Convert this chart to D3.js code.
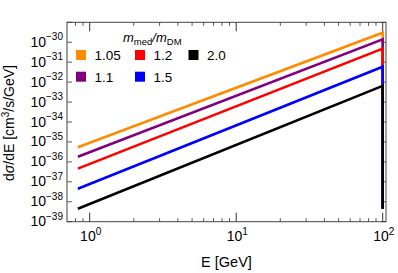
<!DOCTYPE html>
<html>
<head>
<meta charset="utf-8">
<script src="https://cdn.jsdelivr.net/npm/d3@7"></script>
<style>
  body { margin: 0; background: #fff; }
  svg { font-family: "Liberation Sans", Arial, sans-serif; }
</style>
</head>
<body>
<div id="chart"></div>
<script>
// ratios m_med / m_DM, one line each
const ratios = ['1.05', '1.1', '1.2', '1.5', '2.0'];
const colors = ['#ff8c00', '#800080', '#ff0000', '#0000ff', '#000000'];

// energies [GeV]; the last point is the cutoff drop at E = 100
const energies = [0.83, 100, 100];
const sig105 = [5.4e-36, 3.0e-30, 4.5e-39];
const sig11 = [1.8e-36, 1.4e-30, 4.5e-39];
const sig12 = [4.6e-37, 4.8e-31, 4.5e-39];
const sig15 = [4.5e-38, 5.9e-32, 4.5e-39];
const sig20 = [4.5e-39, 6.5e-33, 4.5e-39];
const series = [sig105, sig11, sig12, sig15, sig20];

const xTickValues = [1, 10, 100];
const xTickLabels = ['0', '1', '2'];
const yTickValues = [1e-30, 1e-31, 1e-32, 1e-33, 1e-34, 1e-35, 1e-36, 1e-37, 1e-38, 1e-39];
const yTickLabels = ['-30', '-31', '-32', '-33', '-34', '-35', '-36', '-37', '-38', '-39'];

const width = 398, height = 273;
const margin = { top: 22.3, right: 12, bottom: 51.3, left: 67 };

const svg = d3.select('#chart').append('svg')
  .attr('width', width)
  .attr('height', height);

const x = d3.scaleLog()
  .domain([0.70, 105.3])
  .range([margin.left, width - margin.right]);

const y = d3.scaleLog()
  .domain([1e-39, 1e-29])
  .range([height - margin.bottom, margin.top]);

const x0 = margin.left, x1 = width - margin.right;
const y0 = height - margin.bottom, y1 = margin.top;

// minor / major ticks
const isMajor = v => Math.abs(Math.log10(v) - Math.round(Math.log10(v))) < 1e-6;
const xt = x.ticks().filter(v => v > x.domain()[0] && v < x.domain()[1]);
const yt = y.ticks();

const ticks = svg.append('g').attr('class', 'ticks');
xt.forEach(v => {
  const len = isMajor(v) ? 9 : 3.5;
  const col = isMajor(v) ? '#333' : '#555';
  ticks.append('line').attr('x1', x(v)).attr('x2', x(v))
    .attr('y1', y0).attr('y2', y0 - len).attr('stroke', col).attr('stroke-width', 1);
  ticks.append('line').attr('x1', x(v)).attr('x2', x(v))
    .attr('y1', y1).attr('y2', y1 + len).attr('stroke', col).attr('stroke-width', 1);
});
yt.forEach(v => {
  const len = isMajor(v) ? 5 : 3;
  const col = isMajor(v) ? '#333' : '#999';
  ticks.append('line').attr('x1', x0).attr('x2', x0 + len)
    .attr('y1', y(v)).attr('y2', y(v)).attr('stroke', col).attr('stroke-width', 0.8);
  ticks.append('line').attr('x1', x1).attr('x2', x1 - len)
    .attr('y1', y(v)).attr('y2', y(v)).attr('stroke', col).attr('stroke-width', 0.8);
});

// data lines
svg.append('clipPath').attr('id', 'clip')
  .append('rect').attr('x', x0).attr('y', y1).attr('width', x1 - x0).attr('height', y0 - y1);

const line = d3.line()
  .x((d, i) => x(energies[i]))
  .y(d => y(d));

svg.append('g').attr('clip-path', 'url(#clip)')
  .selectAll('path')
  .data(series)
  .join('path')
  .attr('d', line)
  .attr('fill', 'none')
  .attr('stroke', (d, i) => colors[i])
  .attr('stroke-width', 2.6)
  .attr('stroke-linejoin', 'miter');

// frame
svg.append('rect')
  .attr('x', x0).attr('y', y1)
  .attr('width', x1 - x0).attr('height', y0 - y1)
  .attr('fill', 'none').attr('stroke', '#444').attr('stroke-width', 1);

// tick labels
xTickValues.forEach((v, i) => {
  const t = svg.append('text')
    .attr('x', x(v) + 1).attr('y', y0 + 19.5)
    .attr('text-anchor', 'middle')
    .attr('font-size', 14);
  t.append('tspan').text('10');
  t.append('tspan').attr('dy', -6.5).attr('font-size', 10).text(xTickLabels[i]);
});

yTickValues.forEach((v, i) => {
  const t = svg.append('text')
    .attr('x', x0 - 4).attr('y', y(v) + 4.5)
    .attr('text-anchor', 'end')
    .attr('font-size', 14);
  t.append('tspan').text('10');
  t.append('tspan').attr('dy', -6.5).attr('font-size', 10).text(yTickLabels[i].replace('-', '\u2212'));
});

// axis titles
svg.append('text')
  .attr('x', (x0 + x1) / 2).attr('y', 267)
  .attr('text-anchor', 'middle')
  .attr('font-size', 14.5)
  .text('E [GeV]');

const yl = svg.append('text')
  .attr('transform', `translate(14, ${(y0 + y1) / 2 + 1}) rotate(-90)`)
  .attr('text-anchor', 'middle')
  .attr('font-size', 14);
yl.append('tspan').text('d');
yl.append('tspan').attr('font-style', 'italic').text('\u03c3');
yl.append('tspan').text('/dE [cm');
yl.append('tspan').attr('dy', -5.5).attr('font-size', 10).text('3');
yl.append('tspan').attr('dy', 5.5).text('/s/GeV]');

// legend
const lt = svg.append('text')
  .attr('x', 123).attr('y', 41.5)
  .attr('font-size', 13);
lt.append('tspan').attr('font-style', 'italic').text('m');
lt.append('tspan').attr('dy', 3).attr('font-size', 9.5).text('med');
lt.append('tspan').attr('dy', -3).attr('font-style', 'italic').text('/m');
lt.append('tspan').attr('dy', 3).attr('font-size', 9.5).text('DM');

const legX = [76, 135, 188.5];
const legY = [55, 76.7];
const leg = svg.append('g').attr('class', 'legend');
ratios.forEach((r, i) => {
  const cx = legX[Math.floor(i / 2)], cy = legY[i % 2];
  leg.append('rect')
    .attr('x', cx).attr('y', cy - 5)
    .attr('width', 10).attr('height', 10)
    .attr('fill', colors[i]);
  leg.append('text')
    .attr('x', cx + 18.5).attr('y', cy + 4.8)
    .attr('font-size', 13.5)
    .text(r);
});
</script>
</body>
</html>
